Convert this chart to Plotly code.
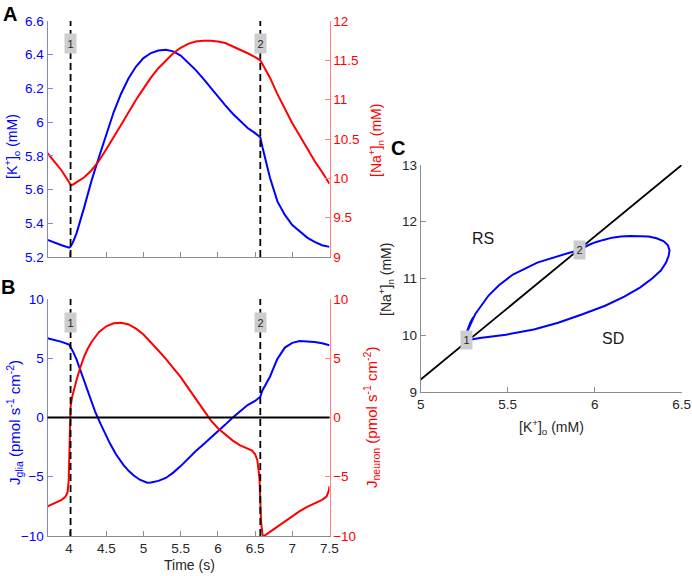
import numpy as np
import plotly.graph_objects as go

# ── data ─────────────────────────────────────────────────────────────────────

# panel A: concentrations over one cycle (also the trajectory of panel C)
TIME_A = [3.71, 3.8, 3.9, 4.0, 4.02, 4.05, 4.1, 4.2, 4.3, 4.4, 4.5, 4.6, 4.7,
          4.8, 4.9, 5.0, 5.1, 5.2, 5.3, 5.4, 5.5, 5.6, 5.7, 5.8, 5.9, 6.0,
          6.1, 6.2, 6.3, 6.4, 6.5, 6.57, 6.6, 6.65, 6.7, 6.8, 6.9, 7.0, 7.1,
          7.2, 7.3, 7.4, 7.5]
K_O = [5.302, 5.285, 5.27, 5.255, 5.262, 5.285, 5.34, 5.49, 5.65, 5.79, 5.93,
       6.06, 6.17, 6.26, 6.33, 6.38, 6.41, 6.425, 6.43, 6.42, 6.395, 6.355,
       6.31, 6.26, 6.205, 6.15, 6.10, 6.05, 6.005, 5.965, 5.935, 5.91, 5.85,
       5.76, 5.67, 5.53, 5.45, 5.39, 5.35, 5.315, 5.29, 5.27, 5.26]
NA_N = [10.32, 10.22, 10.1, 9.95, 9.92, 9.92, 9.95, 10.01, 10.1, 10.22, 10.37,
        10.52, 10.68, 10.84, 11.0, 11.14, 11.28, 11.4, 11.5, 11.59, 11.66,
        11.71, 11.74, 11.75, 11.75, 11.74, 11.72, 11.68, 11.64, 11.59, 11.54,
        11.5, 11.45, 11.37, 11.28, 11.07, 10.88, 10.7, 10.54, 10.38, 10.22,
        10.08, 9.93]

# panel B: fluxes
TIME_GLIA = [3.71, 3.8, 3.9, 4.0, 4.02, 4.05, 4.1, 4.15, 4.2, 4.28, 4.35, 4.42,
             4.5, 4.55, 4.63, 4.73, 4.8, 4.87, 4.95, 5.05, 5.1, 5.2, 5.3, 5.4,
             5.5, 5.6, 5.7, 5.8, 5.9, 6.0, 6.1, 6.2, 6.3, 6.4, 6.5, 6.55,
             6.57, 6.6, 6.65, 6.7, 6.75, 6.8, 6.9, 7.0, 7.1, 7.2, 7.3, 7.4,
             7.5]
J_GLIA = [6.68, 6.55, 6.38, 6.15, 5.95, 5.6, 4.9, 4.0, 3.2, 1.62, 0.5, -0.5,
          -1.55, -2.2, -3.1, -4.0, -4.5, -4.9, -5.25, -5.5, -5.48, -5.35,
          -5.1, -4.65, -4.1, -3.45, -2.85, -2.3, -1.75, -1.17, -0.6, 0.0,
          0.55, 1.05, 1.4, 1.62, 1.75, 2.3, 2.9, 3.44, 4.2, 4.95, 5.9, 6.3,
          6.45, 6.43, 6.38, 6.27, 6.1]

TIME_NEURON = [3.71, 3.8, 3.9, 3.95, 3.98, 3.995, 4.005, 4.012, 4.02, 4.04,
               4.07, 4.1, 4.15, 4.2, 4.25, 4.3, 4.4, 4.5, 4.6, 4.7, 4.8, 4.9,
               5.0, 5.1, 5.2, 5.3, 5.4, 5.5, 5.6, 5.7, 5.8, 5.9, 6.0, 6.1,
               6.2, 6.3, 6.4, 6.46, 6.5, 6.53, 6.55, 6.56, 6.57, 6.58, 6.6,
               6.62, 6.7, 6.8, 6.9, 7.0, 7.1, 7.2, 7.3, 7.4, 7.46, 7.49, 7.5]
J_NEURON = [-7.5, -7.25, -6.95, -6.7, -6.3, -5.3, -3.0, 0.0, 0.9, 1.7, 2.5,
            3.16, 4.2, 5.1, 5.8, 6.35, 7.2, 7.7, 7.95, 8.0, 7.85, 7.5, 7.0,
            6.35, 5.65, 4.95, 4.2, 3.4, 2.5, 1.6, 0.65, -0.2, -0.9, -1.45,
            -1.95, -2.35, -2.65, -2.8, -3.1, -3.6, -4.6, -5.3, -7.0, -8.8,
            -9.9, -10.0, -9.65, -9.2, -8.75, -8.3, -7.9, -7.55, -7.25, -6.95,
            -6.68, -6.2, -5.8]

# panel C: boundary between the two regimes
BOUNDARY_K = [5.0, 6.5]
BOUNDARY_NA = [9.22, 13.0]

EVENT_TIMES = [4.02, 6.57]
EVENT_LABELS = ["1", "2"]

# ── style ────────────────────────────────────────────────────────────────────

W, H = 692, 576
BLUE = "#0000ff"
RED = "#ff0000"
DARK = "#262626"
GREY = "#8c8c8c"
FONT = "Liberation Sans, Arial, sans-serif"
BOX = "#cdcdcd"
TICK = 13.5


def px_x(p):
    return p / W


def px_y(p):
    return 1 - p / H


AXIS = dict(showline=True, linewidth=1, ticks="inside", ticklen=5, tickwidth=1,
            showgrid=False, zeroline=False, automargin=False)

dom_x_ab = [px_x(47.5), px_x(329.5)]
dom_a = [px_y(257), px_y(21)]
dom_b = [px_y(536), px_y(299)]
dom_cx = [px_x(420.7), px_x(681.7)]
dom_cy = [px_y(392), px_y(165)]

fig = go.Figure()

line = dict(width=2)
fig.add_trace(go.Scatter(x=TIME_A, y=K_O, mode="lines", line=dict(color=BLUE, **line),
                         xaxis="x", yaxis="y"))
fig.add_trace(go.Scatter(x=TIME_A, y=NA_N, mode="lines", line=dict(color=RED, **line),
                         xaxis="x", yaxis="y2"))
fig.add_trace(go.Scatter(x=TIME_GLIA, y=J_GLIA, mode="lines", line=dict(color=BLUE, **line),
                         xaxis="x2", yaxis="y3"))
fig.add_trace(go.Scatter(x=TIME_NEURON, y=J_NEURON, mode="lines", line=dict(color=RED, **line),
                         xaxis="x2", yaxis="y4"))
fig.add_trace(go.Scatter(x=BOUNDARY_K, y=BOUNDARY_NA, mode="lines",
                         line=dict(color="black", width=1.8), xaxis="x3", yaxis="y5"))
fig.add_trace(go.Scatter(x=K_O, y=NA_N, mode="lines", line=dict(color=BLUE, **line),
                         xaxis="x3", yaxis="y5"))

shapes = []
annotations = []

# zero line in B
shapes.append(dict(type="line", xref="x2 domain", yref="y3", x0=0, x1=1, y0=0, y1=0,
                   line=dict(color="black", width=1.8)))

# event markers in A and B
for xr, yr, ybox in (("x", "y domain", 0.949), ("x2", "y3 domain", 0.945)):
    for t, lab in zip(EVENT_TIMES, EVENT_LABELS):
        shapes.append(dict(type="line", xref=xr, yref=yr, x0=t, x1=t, y0=0, y1=1,
                           line=dict(color="black", width=1.8, dash="7px,4px")))
        annotations.append(dict(x=t, y=ybox, xref=xr, yref=yr, text=lab, showarrow=False,
                                bgcolor=BOX, width=11, height=19, borderpad=0,
                                font=dict(size=11, color=DARK, family=FONT)))

# event markers in C
ev_k = np.interp(EVENT_TIMES, TIME_A, K_O)
ev_na = np.interp(EVENT_TIMES, TIME_A, NA_N)
for k, na, lab in zip(ev_k, ev_na, EVENT_LABELS):
    annotations.append(dict(x=k, y=na, xref="x3", yref="y5", text=lab, showarrow=False,
                            bgcolor=BOX, width=11, height=18, borderpad=0,
                            font=dict(size=11, color=DARK, family=FONT)))

annotations.append(dict(x=5.36, y=11.71, xref="x3", yref="y5", text="RS", showarrow=False,
                        font=dict(size=16, color="#1a1a1a", family=FONT)))
annotations.append(dict(x=6.107, y=9.95, xref="x3", yref="y5", text="SD", showarrow=False,
                        font=dict(size=16, color="#1a1a1a", family=FONT)))


def label(text, x, y, color, angle=0, size=14, bold=False):
    annotations.append(dict(x=px_x(x), y=px_y(y), xref="paper", yref="paper", text=text,
                            showarrow=False, textangle=angle, xanchor="center",
                            yanchor="middle",
                            font=dict(size=size, color=color, family=FONT,
                                      weight="bold" if bold else "normal")))


# axis titles
label("[K<sup>+</sup>]<sub>o</sub> (mM)", 12, 147, BLUE, -90)
label("[Na<sup>+</sup>]<sub>n</sub> (mM)", 376, 140, RED, -90)
label("J<sub>glia</sub> (pmol s<sup>-1</sup> cm<sup>-2</sup>)", 14, 423, BLUE, -90, size=15)
label("J<sub>neuron</sub> (pmol s<sup>-1</sup> cm<sup>-2</sup>)", 371, 418, RED, -90, size=15)
label("Time (s)", 189, 565, DARK)
label("[K<sup>+</sup>]<sub>o</sub> (mM)", 551, 427, DARK)
label("[Na<sup>+</sup>]<sub>n</sub> (mM)", 386, 280, DARK, -90)

# panel letters
label("A", 10, 14, "black", size=20, bold=True)
label("B", 8, 287, "black", size=20, bold=True)
label("C", 398, 148, "black", size=20, bold=True)


def ticks(color):
    return dict(size=TICK, family=FONT, color=color)


t_axis = dict(AXIS, range=[3.71, 7.5], tick0=4, dtick=0.5, linecolor=GREY,
              tickcolor=GREY)

fig.update_layout(
    width=W, height=H,
    margin=dict(l=0, r=0, t=0, b=0),
    paper_bgcolor="white", plot_bgcolor="white",
    showlegend=False,
    font=dict(family=FONT, color=DARK),
    xaxis=dict(t_axis, domain=dom_x_ab, anchor="y", showticklabels=False),
    yaxis=dict(AXIS, domain=dom_a, anchor="x", range=[5.2, 6.6], dtick=0.2,
               linecolor="#8080ff", tickcolor="#8080ff", tickfont=ticks(BLUE)),
    yaxis2=dict(AXIS, overlaying="y", side="right", anchor="x", range=[9, 12], dtick=0.5,
                linecolor="#ff8080", tickcolor="#ff8080", tickfont=ticks(RED)),
    xaxis2=dict(t_axis, domain=dom_x_ab, anchor="y3", tickfont=ticks(DARK)),
    yaxis3=dict(AXIS, domain=dom_b, anchor="x2", range=[-10, 10], dtick=5,
                linecolor="#8080ff", tickcolor="#8080ff", tickfont=ticks(BLUE)),
    yaxis4=dict(AXIS, overlaying="y3", side="right", anchor="x2", range=[-10, 10], dtick=5,
                linecolor="#ff8080", tickcolor="#ff8080", tickfont=ticks(RED)),
    xaxis3=dict(AXIS, domain=dom_cx, anchor="y5", range=[5, 6.5], dtick=0.5,
                linecolor=GREY, tickcolor=GREY, tickfont=ticks(DARK)),
    yaxis5=dict(AXIS, domain=dom_cy, anchor="x3", range=[9, 13], dtick=1,
                linecolor=GREY, tickcolor=GREY, tickfont=ticks(DARK)),
    shapes=shapes,
    annotations=annotations,
)

# drop the default page margin so the figure sits at the window's corner
fig.write_html("out.html", config={"displayModeBar": False},
               post_script="document.body.style.margin='0';")
